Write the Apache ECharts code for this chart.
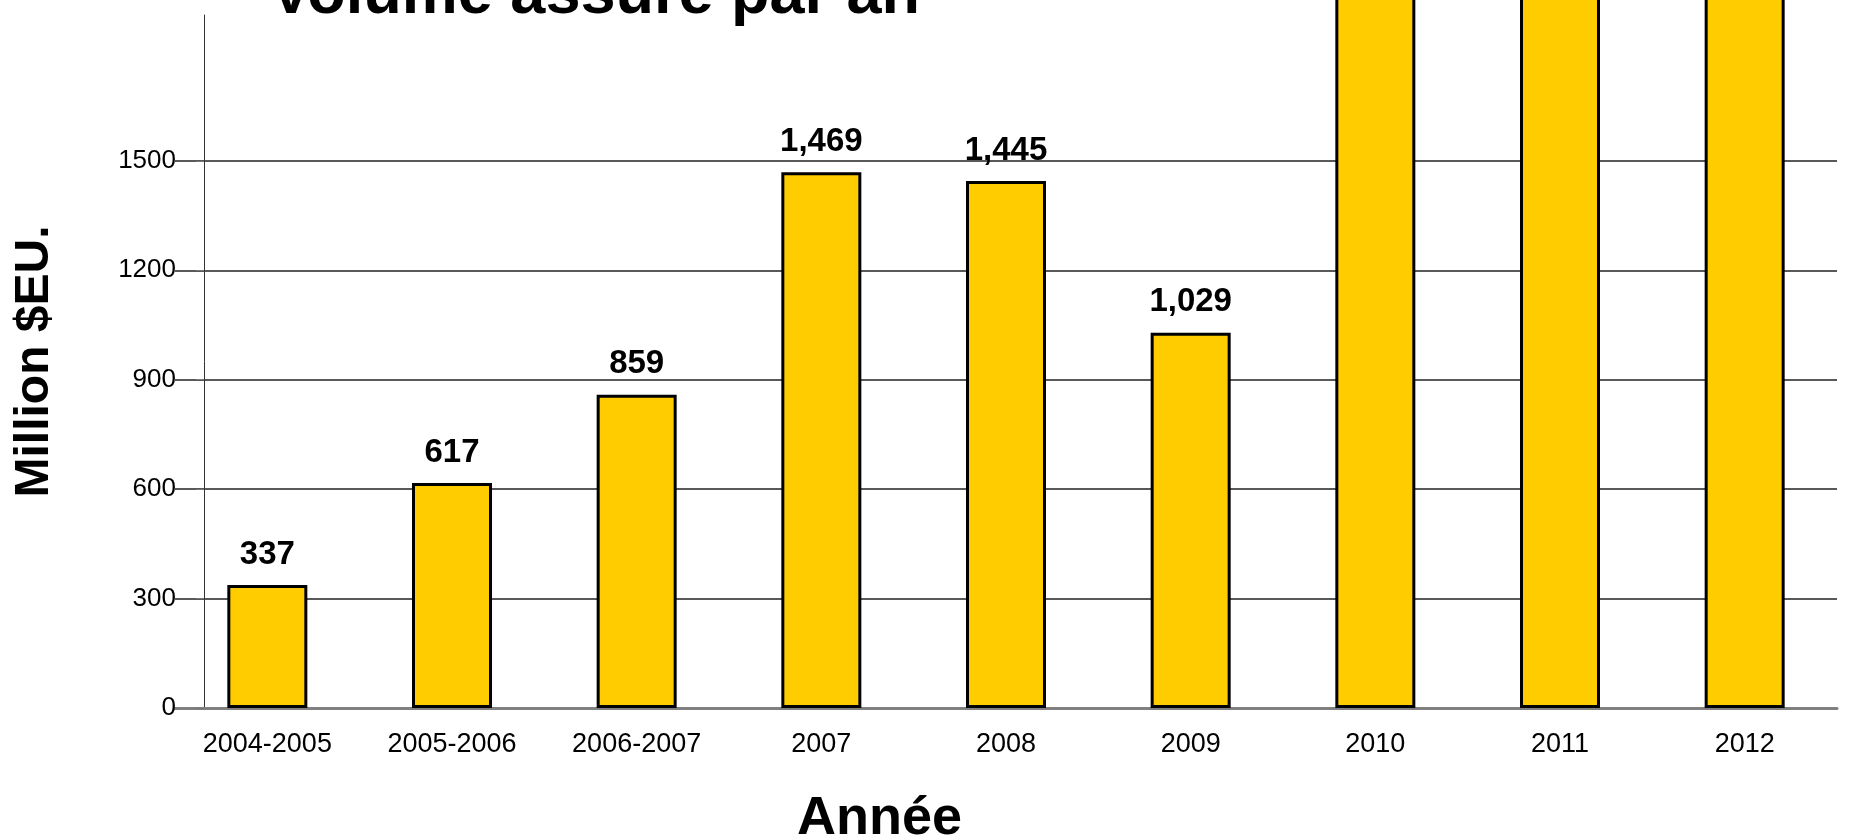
<!DOCTYPE html>
<html>
<head>
<meta charset="utf-8">
<title>Volume assuré par an</title>
<script src="https://cdn.jsdelivr.net/npm/echarts@6/dist/echarts.min.js"></script>
<style>
  html, body { margin: 0; padding: 0; background: #fff; }
  #chart { width: 1852px; height: 837px; }
</style>
</head>
<body>
<div id="chart"></div>
<script>
  // data (2010-2012 run past the top, values guessed)
  const years = ['2004-2005', '2005-2006', '2006-2007', '2007', '2008', '2009', '2010', '2011', '2012'];
  const volumes = [337, 617, 859, 1469, 1445, 1029, 2200, 2450, 2700];
  const yTicks = [0, 300, 600, 900, 1200, 1500];

  const font = "'Liberation Sans', Arial, sans-serif";

  let chart = echarts.init(document.getElementById('chart'));

  let option = {
    animation: false,
    title: [
      {
        text: 'Volume assuré par an',
        left: 270,
        top: -36,
        padding: 0,
        textStyle: { fontFamily: font, fontSize: 63, fontWeight: 'bold', color: '#000' }
      },
      {
        text: 'Année',
        left: 797,
        top: 792,
        padding: 0,
        textStyle: { fontFamily: font, fontSize: 54, fontWeight: 'bold', color: '#000' }
      }
    ],
    grid: {
      left: 175,
      right: 15,
      top: 15,
      bottom: 129
    },
    xAxis: {
      type: 'category',
      data: years,
      axisLine: { lineStyle: { color: '#808080', width: 3 } },
      axisTick: { show: false },
      axisLabel: {
        fontFamily: font,
        fontSize: 27,
        color: '#000',
        margin: 23
      }
    },
    yAxis: {
      type: 'value',
      min: 0,
      max: 1900,
      offset: -29,
      name: 'Million $EU.',
      nameLocation: 'middle',
      nameGap: 145,
      nameTextStyle: { fontFamily: font, fontSize: 48, fontWeight: 'bold', color: '#000' },
      axisLine: { show: true, lineStyle: { color: '#333', width: 1 } },
      axisTick: { show: true, length: 8, customValues: yTicks, lineStyle: { color: '#777' } },
      axisLabel: {
        customValues: yTicks,
        fontFamily: font,
        fontSize: 26,
        color: '#000',
        margin: 28,
        formatter: v => String(v)
      },
      splitLine: { show: true, lineStyle: { color: '#222', width: 1.5 } }
    },
    series: [
      {
        name: 'Volume',
        type: 'bar',
        data: volumes,
        barWidth: 80,
        clip: false,
        itemStyle: {
          color: '#FFCC00',
          borderColor: '#000',
          borderWidth: 3
        },
        label: {
          show: true,
          position: 'top',
          distance: 14,
          fontFamily: font,
          fontSize: 33,
          fontWeight: 'bold',
          color: '#000',
          formatter: p => p.value.toLocaleString('en-US')
        }
      }
    ]
  };

  chart.setOption(option);
</script>
</body>
</html>
